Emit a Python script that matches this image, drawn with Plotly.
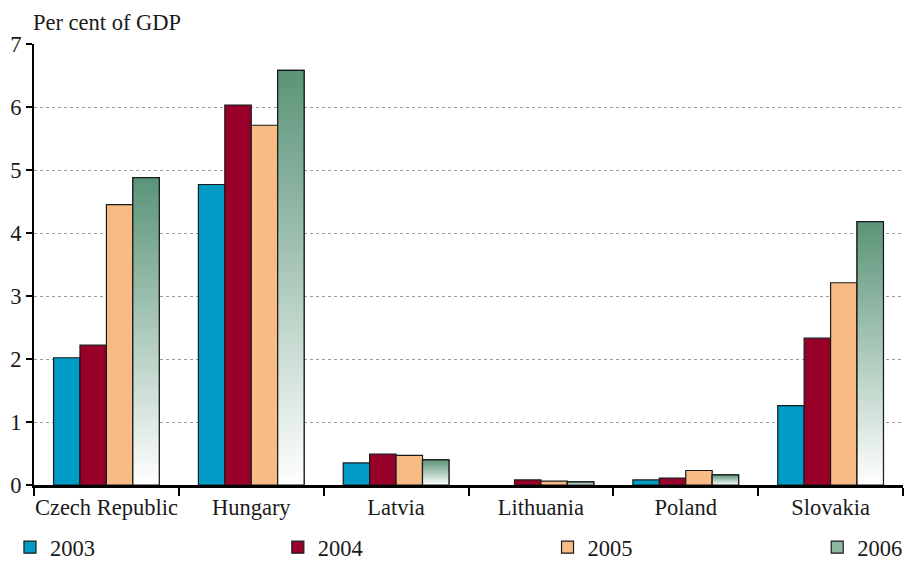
import plotly.graph_objects as go

countries = ["Czech Republic", "Hungary", "Latvia", "Lithuania", "Poland", "Slovakia"]
years = ["2003", "2004", "2005", "2006"]
v2003 = [2.02, 4.77, 0.35, None, 0.08, 1.26]
v2004 = [2.22, 6.03, 0.49, 0.08, 0.11, 2.33]
v2005 = [4.45, 5.71, 0.47, 0.06, 0.23, 3.21]
v2006 = [4.88, 6.58, 0.40, 0.05, 0.16, 4.18]
colors = ["#009cc6", "#990029", "#f8bb85", "#8fb8a3"]
green_top = "#5a9478"
y_ticks = [0, 1, 2, 3, 4, 5, 6, 7]
legend_x = [0.011, 0.307, 0.605, 0.903]

FONT = "Liberation Serif, DejaVu Serif, serif"
FS = 22.5
BARGAP = 0.27
NSER = 4
W, H = 905, 561

fig = go.Figure()
legend_names = ["legend", "legend2", "legend3", "legend4"]
for name, vals, col, lg in zip(years, [v2003, v2004, v2005, v2006], colors, legend_names):
    fig.add_trace(go.Bar(
        x=countries, y=vals, name=name, legend=lg,
        marker=dict(color=col, line=dict(color="#1a1a1a", width=1.2)),
    ))

# gradient overlay for 2006 bars, computed from category index and bar layout
group_w = 1 - BARGAP
bar_w = group_w / NSER
for i, v in enumerate(v2006):
    if v is None:
        continue
    x0 = i - group_w / 2 + 3 * bar_w
    x1 = x0 + bar_w
    fig.add_trace(go.Scatter(
        x=[x0, x1, x1, x0, x0], y=[0, 0, v, v, 0],
        xaxis="x2", mode="lines", fill="toself",
        line=dict(color="#1a1a1a", width=1.2),
        fillgradient=dict(type="vertical", start=0, stop=v,
                          colorscale=[[0, "#ffffff"], [1, green_top]]),
        showlegend=False, hoverinfo="skip",
    ))

def legend_cfg(x):
    return dict(
        orientation="h", xref="container", yref="container",
        x=x, y=0.024, xanchor="left", yanchor="middle",
        font=dict(family=FONT, size=FS, color="#1a1a1a"),
        bgcolor="rgba(0,0,0,0)", itemwidth=30,
    )

fig.update_layout(
    width=W, height=H,
    margin=dict(l=34, r=2, t=44, b=76),
    paper_bgcolor="white", plot_bgcolor="white",
    barmode="group", bargap=BARGAP, bargroupgap=0,
    font=dict(family=FONT, size=FS, color="#1a1a1a"),
    xaxis=dict(
        type="category", range=[-0.5, 5.5], tickangle=0, automargin=False,
        showline=True, linecolor="black", linewidth=3,
        ticks="outside", tickson="boundaries", ticklen=8, tickwidth=2, tickcolor="black",
        showgrid=False, tickfont=dict(family=FONT, size=FS),
    ),
    xaxis2=dict(overlaying="x", range=[-0.5, 5.5], visible=False),
    yaxis=dict(
        range=[0, 7], tickvals=y_ticks, automargin=False,
        showline=True, linecolor="black", linewidth=2,
        ticks="outside", ticklen=6, tickwidth=2, tickcolor="black",
        showgrid=True, gridcolor="#9a9a9a", gridwidth=1, griddash="dot",
        zeroline=False, tickfont=dict(family=FONT, size=FS),
    ),
    legend=legend_cfg(legend_x[0]),
    legend2=legend_cfg(legend_x[1]),
    legend3=legend_cfg(legend_x[2]),
    legend4=legend_cfg(legend_x[3]),
    annotations=[dict(
        text="Per cent of GDP", xref="paper", yref="paper",
        x=0, y=1.048, xanchor="left", yanchor="middle", xshift=-3,
        showarrow=False, font=dict(family=FONT, size=FS),
    )],
)

fig.write_html("out.html", config={"displayModeBar": False},
               post_script="document.body.style.margin='0';")
